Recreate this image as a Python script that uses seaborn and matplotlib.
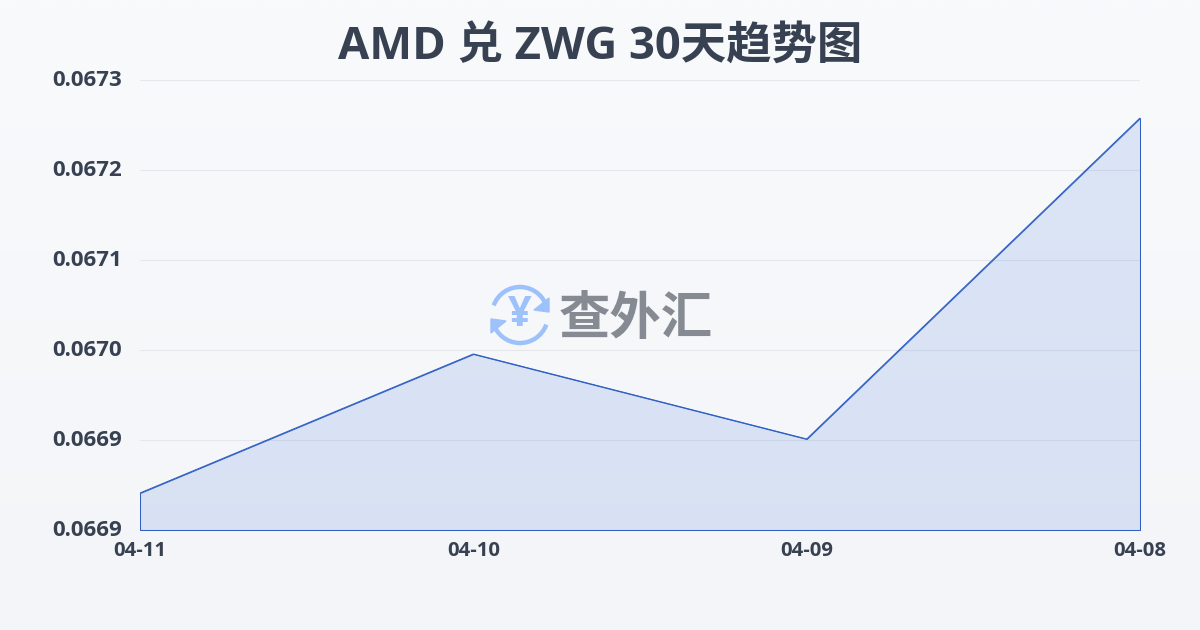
import numpy as np
import pandas as pd
import seaborn as sns
import matplotlib.pyplot as plt
from matplotlib.patches import Arc, Polygon
from matplotlib.transforms import ScaledTranslation

dates = ["04-11", "04-10", "04-09", "04-08"]
rates = [0.066887, 0.067026, 0.066941, 0.067262]
y_ticks = [0.06685, 0.06694, 0.06703, 0.06712, 0.06721, 0.0673]
y_labels = ["0.0669", "0.0669", "0.0670", "0.0671", "0.0672", "0.0673"]

sns.set_theme(style="white")
plt.rcParams["font.family"] = ["Open Sans", "Noto Sans CJK SC", "DejaVu Sans"]

text_color = "#374151"
line_color = "#2f5fc4"

fig = plt.figure(figsize=(12, 6.3), dpi=100)

# background gradient
bg = fig.add_axes([0, 0, 1, 1], zorder=0)
grad = np.linspace(0, 1, 256).reshape(-1, 1, 1)
top = np.array([248, 250, 252]) / 255
bottom = np.array([243, 245, 248]) / 255
bg.imshow(top + (bottom - top) * grad, aspect="auto", extent=[0, 1200, 630, 0])
bg.axis("off")

ax = fig.add_axes([140 / 1200, 100 / 630, 1000 / 1200, 450 / 630], zorder=1)
ax.patch.set_alpha(0)

df = pd.DataFrame({"date": dates, "rate": rates})
sns.lineplot(data=df, x="date", y="rate", sort=False, color=line_color, lw=0.75, ax=ax, zorder=3)
ax.fill_between(range(len(dates)), rates, y_ticks[0], facecolor=(0.2, 0.42, 0.85, 0.14),
                edgecolor=line_color, lw=0.75, zorder=2)

ax.set_xlim(0, len(dates) - 1)
ax.set_ylim(y_ticks[0], y_ticks[-1])
ax.set_yticks(y_ticks)
ax.set_yticklabels(y_labels, fontsize=16, fontweight="bold", color=text_color)
ax.set_xticks(range(len(dates)))
ax.set_xticklabels(dates, fontsize=14.6, fontweight="bold", color=text_color)
ax.set_xlabel("")
ax.set_ylabel("")
ax.grid(axis="y", color="#e5e7eb", lw=0.75, zorder=1)
ax.tick_params(axis="y", length=0, pad=13)
ax.tick_params(axis="x", length=0, pad=8)
sns.despine(ax=ax, left=True, bottom=True)

# y labels sit a little above their gridlines
shift = ScaledTranslation(0, 1.5 / 100, fig.dpi_scale_trans)
for lab in ax.get_yticklabels():
    lab.set_transform(lab.get_transform() + shift)

# overlay in pixel coords for title and watermark
ov = fig.add_axes([0, 0, 1, 1], zorder=2)
ov.set_xlim(0, 1200)
ov.set_ylim(630, 0)
ov.axis("off")
ov.patch.set_alpha(0)

ov.text(600, 48, "AMD 兑 ZWG 30天趋势图", ha="center", va="center",
        fontsize=32.7, fontweight="bold", color=text_color)

# watermark
icon = "#9dc1fa"
ov.add_patch(Arc((520, 315), 56, 56, theta1=200, theta2=345, color=icon, lw=3.2))
ov.add_patch(Arc((520, 315), 56, 56, theta1=20, theta2=165, color=icon, lw=3.2))
ov.add_patch(Polygon([[549, 298], [549, 312], [534, 310]], color=icon))
ov.add_patch(Polygon([[491, 319], [491, 333], [506, 321]], color=icon))
ov.text(520, 315, "¥", ha="center", va="center", fontsize=30, fontweight="bold", color=icon)
ov.text(636, 321, "查外汇", ha="center", va="center", fontsize=37, fontweight="bold", color="#868b93")

fig.savefig("out.png", dpi=100)
